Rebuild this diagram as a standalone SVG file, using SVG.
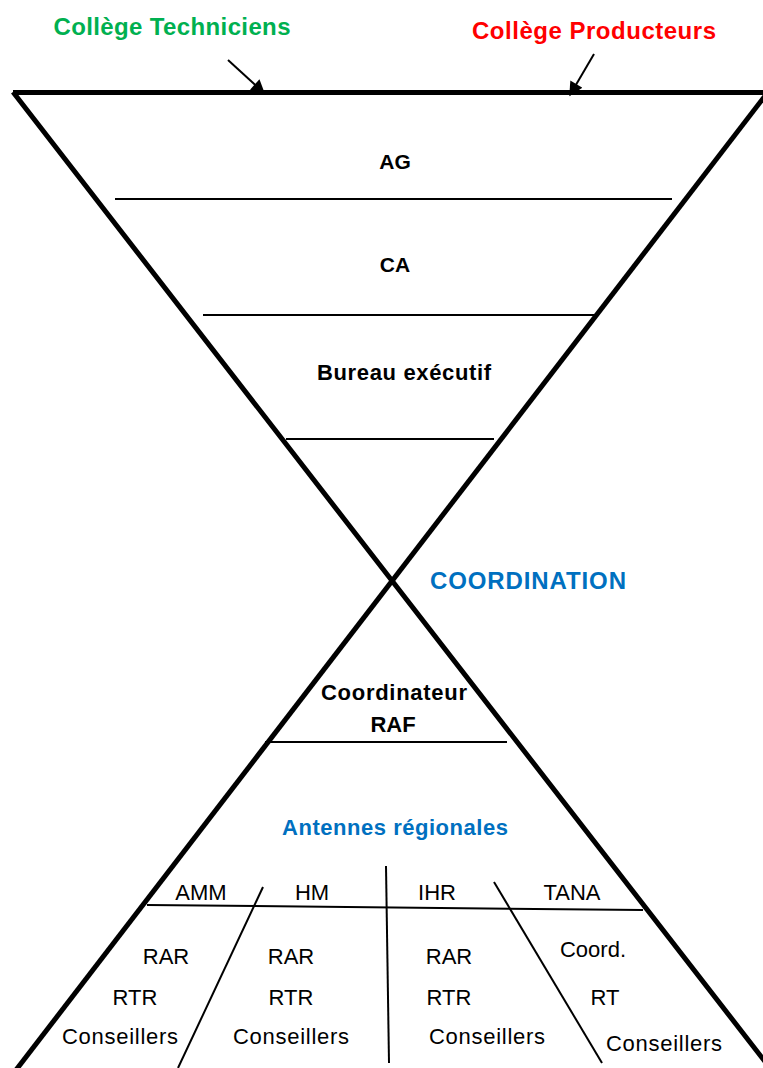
<svg xmlns="http://www.w3.org/2000/svg" width="763" height="1068" viewBox="0 0 763 1068">
<style>
.thick{stroke:#000;stroke-width:5;fill:none;stroke-linecap:butt}
.thin{stroke:#000;stroke-width:2;fill:none}
.arr{stroke:#000;stroke-width:2;fill:none}
.b{font-family:"Liberation Sans",Arial,sans-serif;font-weight:bold;text-anchor:middle}
.r{font-family:"Liberation Sans",Arial,sans-serif;text-anchor:middle;fill:#000;font-size:22px}
</style>
<defs>
<marker id="ah" viewBox="0 0 10 10" refX="9" refY="5" markerWidth="8" markerHeight="7" orient="auto" markerUnits="strokeWidth">
<path d="M0,0 L10,5 L0,10 z" fill="#000"/>
</marker>
</defs>
<rect width="763" height="1068" fill="#fff"/>
<g id="frame">
<line class="thick" x1="13" y1="92.5" x2="763" y2="92.5" stroke-width="4"/>
<polyline class="thick" points="13,92 393,582 770,1068" stroke-linejoin="miter"/>
<line class="thick" x1="768" y1="92" x2="16" y2="1070"/>
</g>
<g id="connectors">
<line class="arr" x1="228" y1="60" x2="264" y2="93" marker-end="url(#ah)"/>
<line class="arr" x1="594" y1="54" x2="570" y2="95" marker-end="url(#ah)"/>
<line class="thin" x1="115" y1="199" x2="672" y2="199"/>
<line class="thin" x1="203" y1="315" x2="594" y2="315"/>
<line class="thin" x1="286" y1="439" x2="494" y2="439"/>
<line class="thin" x1="265" y1="742" x2="507" y2="742"/>
<line class="thin" x1="147" y1="905" x2="643" y2="910"/>
<line class="thin" x1="386" y1="866" x2="389" y2="1063"/>
<line class="thin" x1="263" y1="887" x2="178" y2="1068"/>
<line class="thin" x1="494" y1="882" x2="602" y2="1063"/>
</g>
<g id="college-techniciens"><text class="b" x="172" y="35" font-size="24" fill="#00B050" textLength="237">Collège Techniciens</text></g>
<g id="college-producteurs"><text class="b" x="594" y="39" font-size="24" fill="#FF0000" textLength="244">Collège Producteurs</text></g>
<g id="ag"><text class="b" x="395" y="169" font-size="21" fill="#000">AG</text></g>
<g id="ca"><text class="b" x="395" y="272" font-size="21" fill="#000">CA</text></g>
<g id="bureau"><text class="b" x="404" y="380" font-size="22" fill="#000" textLength="174">Bureau exécutif</text></g>
<g id="coordination"><text class="b" x="528" y="589" font-size="24" fill="#0070C0" textLength="196">COORDINATION</text></g>
<g id="coordinateur">
<text class="b" x="394" y="700" font-size="22" fill="#000" textLength="146">Coordinateur</text>
<text class="b" x="393" y="732" font-size="22" fill="#000">RAF</text>
</g>
<g id="antennes"><text class="b" x="395" y="835" font-size="22" fill="#0070C0" textLength="226">Antennes régionales</text></g>
<g id="amm">
<text class="r" x="201" y="900">AMM</text>
<text class="r" x="166" y="964">RAR</text>
<text class="r" x="135" y="1005">RTR</text>
<text class="r" x="120" y="1044" textLength="116">Conseillers</text>
</g>
<g id="hm">
<text class="r" x="312" y="900">HM</text>
<text class="r" x="291" y="964">RAR</text>
<text class="r" x="291" y="1005">RTR</text>
<text class="r" x="291" y="1044" textLength="116">Conseillers</text>
</g>
<g id="ihr">
<text class="r" x="437" y="900">IHR</text>
<text class="r" x="449" y="964">RAR</text>
<text class="r" x="449" y="1005">RTR</text>
<text class="r" x="487" y="1044" textLength="116">Conseillers</text>
</g>
<g id="tana">
<text class="r" x="572" y="900">TANA</text>
<text class="r" x="593" y="957">Coord.</text>
<text class="r" x="605" y="1005">RT</text>
<text class="r" x="664" y="1051" textLength="116">Conseillers</text>
</g>
</svg>
